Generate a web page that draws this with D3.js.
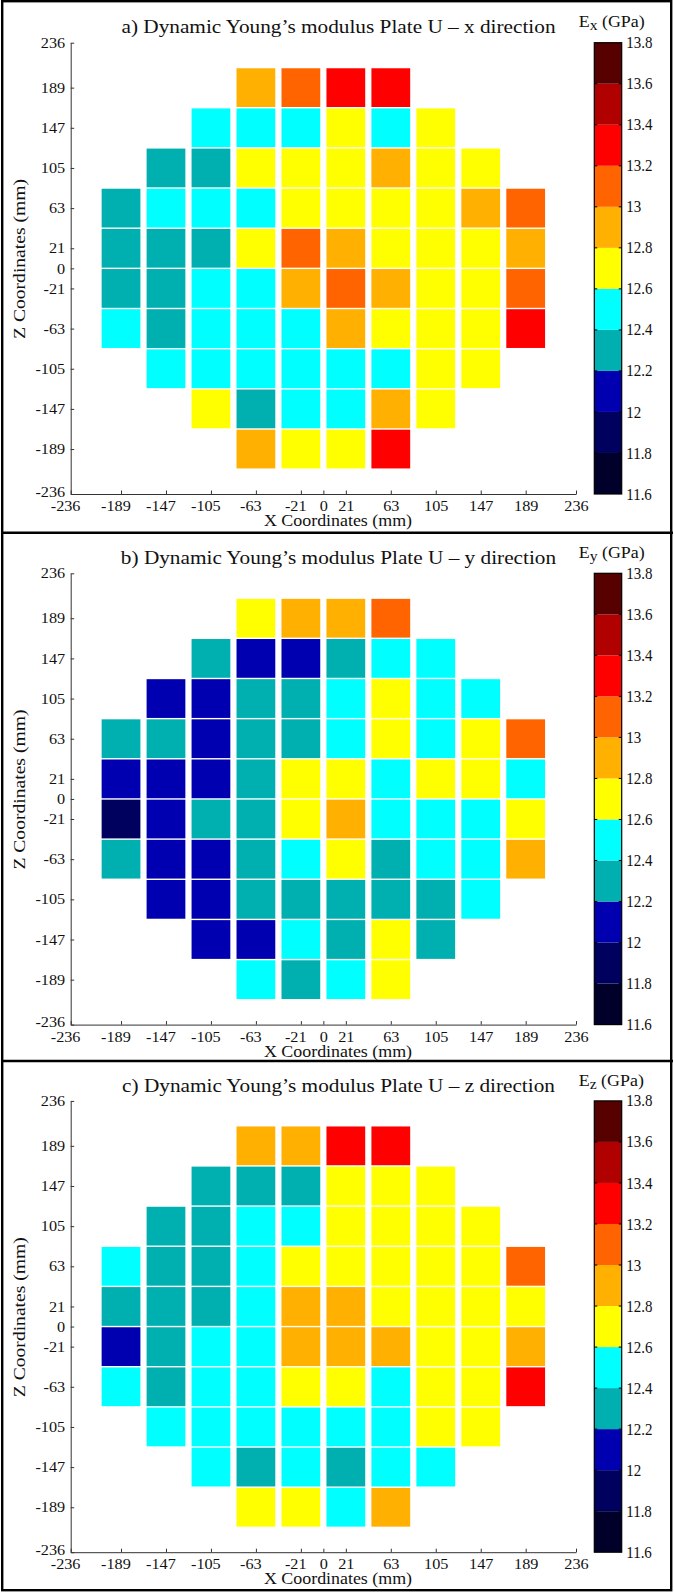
<!DOCTYPE html>
<html>
<head>
<meta charset="utf-8">
<script src="https://cdn.jsdelivr.net/npm/d3@7"></script>
<style>
  html, body { margin: 0; padding: 0; background: #fff; }
  svg { display: block; }
  text { font-family: "Liberation Serif", "Times New Roman", serif; fill: #111; }
</style>
</head>
<body>
<script>
// ---------- data ----------
const xCoords = [-189, -147, -105, -63, -21, 21, 63, 105, 147, 189];
const zCoords = [189, 147, 105, 63, 21, -21, -63, -105, -147, -189];
const axisTicks = [-236, -189, -147, -105, -63, -21, 0, 21, 63, 105, 147, 189, 236];
const colorTicks = [11.6, 11.8, 12.0, 12.2, 12.4, 12.6, 12.8, 13.0, 13.2, 13.4, 13.6, 13.8];
const binColors = ["#00002a", "#00005e", "#0000b0", "#00b0b0", "#00ffff", "#ffff00",
                   "#ffb000", "#ff6400", "#ff0000", "#b00000", "#560000"];
const panelTitles = [
  "a) Dynamic Young\u2019s modulus Plate U \u2013 x direction",
  "b) Dynamic Young\u2019s modulus Plate U \u2013 y direction",
  "c) Dynamic Young\u2019s modulus Plate U \u2013 z direction"
];
const cbarSubs = ["x", "y", "z"];

// rows follow zCoords (top to bottom), columns follow xCoords (left to right), GPa
const exValues = [
  [null, null, null, 12.9, 13.1, 13.3, 13.3, null, null, null],
  [null, null, 12.5, 12.5, 12.5, 12.7, 12.5, 12.7, null, null],
  [null, 12.3, 12.3, 12.7, 12.7, 12.7, 12.9, 12.7, 12.7, null],
  [12.3, 12.5, 12.5, 12.5, 12.7, 12.7, 12.7, 12.7, 12.9, 13.1],
  [12.3, 12.3, 12.3, 12.7, 13.1, 12.9, 12.7, 12.7, 12.7, 12.9],
  [12.3, 12.3, 12.5, 12.5, 12.9, 13.1, 12.9, 12.7, 12.7, 13.1],
  [12.5, 12.3, 12.5, 12.5, 12.5, 12.9, 12.7, 12.7, 12.7, 13.3],
  [null, 12.5, 12.5, 12.5, 12.5, 12.5, 12.5, 12.7, 12.7, null],
  [null, null, 12.7, 12.3, 12.5, 12.5, 12.9, 12.7, null, null],
  [null, null, null, 12.9, 12.7, 12.7, 13.3, null, null, null]
];
const eyValues = [
  [null, null, null, 12.7, 12.9, 12.9, 13.1, null, null, null],
  [null, null, 12.3, 12.1, 12.1, 12.3, 12.5, 12.5, null, null],
  [null, 12.1, 12.1, 12.3, 12.3, 12.5, 12.7, 12.5, 12.5, null],
  [12.3, 12.3, 12.1, 12.3, 12.3, 12.5, 12.7, 12.5, 12.7, 13.1],
  [12.1, 12.1, 12.1, 12.3, 12.7, 12.7, 12.5, 12.7, 12.7, 12.5],
  [11.9, 12.1, 12.3, 12.3, 12.7, 12.9, 12.5, 12.5, 12.5, 12.7],
  [12.3, 12.1, 12.1, 12.3, 12.5, 12.7, 12.3, 12.5, 12.5, 12.9],
  [null, 12.1, 12.1, 12.3, 12.3, 12.3, 12.3, 12.3, 12.5, null],
  [null, null, 12.1, 12.1, 12.5, 12.3, 12.7, 12.3, null, null],
  [null, null, null, 12.5, 12.3, 12.5, 12.7, null, null, null]
];
const ezValues = [
  [null, null, null, 12.9, 12.9, 13.3, 13.3, null, null, null],
  [null, null, 12.3, 12.3, 12.3, 12.7, 12.7, 12.7, null, null],
  [null, 12.3, 12.3, 12.5, 12.5, 12.7, 12.7, 12.7, 12.7, null],
  [12.5, 12.3, 12.3, 12.5, 12.7, 12.7, 12.7, 12.7, 12.7, 13.1],
  [12.3, 12.3, 12.3, 12.5, 12.9, 12.9, 12.7, 12.7, 12.7, 12.7],
  [12.1, 12.3, 12.5, 12.5, 12.9, 12.9, 12.9, 12.7, 12.7, 12.9],
  [12.5, 12.3, 12.5, 12.5, 12.7, 12.7, 12.5, 12.7, 12.7, 13.3],
  [null, 12.5, 12.5, 12.5, 12.5, 12.5, 12.5, 12.7, 12.7, null],
  [null, null, 12.5, 12.3, 12.5, 12.3, 12.5, 12.5, null, null],
  [null, null, null, 12.7, 12.7, 12.5, 12.9, null, null, null]
];
const panelValues = [exValues, eyValues, ezValues];

// ---------- layout ----------
const W = 674, H = 1592;
const panelOffsets = [0, 530.6, 1058.2];
const SX = 1.12; // horizontal stretch of the original picture

const svg = d3.select("body").append("svg").attr("width", W).attr("height", H);

const xs = d3.scaleLinear().domain([-236, 236]).range([70.7, 576]);
const ys = d3.scaleLinear().domain([236, -236]).range([42.7, 494]);
const cs = d3.scaleLinear().domain([11.6, 13.8]).range([494, 42.7]);
const color = d3.scaleThreshold().domain(colorTicks.slice(1, -1)).range(binColors);
const cbX0 = 594.3, cbX1 = 621.7;
const cellHalf = 21;

function stext(parent, x, y, str, size, anchor, sx, sy) {
  return parent.append("text")
    .attr("transform", `translate(${x},${y}) scale(${sx || 1},${sy || 1})`)
    .attr("text-anchor", anchor)
    .style("font-size", size + "px")
    .text(str);
}

panelValues.forEach((grid, p) => {
  const g = svg.append("g").attr("transform", `translate(0,${panelOffsets[p]})`);

  // cells
  const cells = [];
  grid.forEach((row, r) => row.forEach((v, c) => {
    if (v !== null) cells.push({x: xCoords[c], z: zCoords[r], v});
  }));
  g.selectAll("rect.cell").data(cells).enter().append("rect")
    .attr("class", "cell")
    .attr("x", d => xs(d.x - cellHalf) + 3.1)
    .attr("width", d => xs(d.x + cellHalf) - xs(d.x - cellHalf) - 6.2)
    .attr("y", d => ys(d.z + cellHalf) + 0.7)
    .attr("height", d => ys(d.z - cellHalf) - ys(d.z + cellHalf) - 1.4)
    .attr("fill", d => color(d.v));

  // axes
  const fmt = d => String(d);
  const xAxis = d3.axisBottom(xs).tickValues(axisTicks).tickFormat(fmt)
    .tickSizeInner(-3.5).tickSizeOuter(0).tickPadding(7);
  const yAxis = d3.axisLeft(ys).tickValues(axisTicks).tickFormat(fmt)
    .tickSizeInner(-3.5).tickSizeOuter(0).tickPadding(5);
  const gx = g.append("g").attr("transform", `translate(0,${ys(-236)})`).call(xAxis);
  const gy = g.append("g").attr("transform", `translate(${xs(-236)},0)`).call(yAxis);
  [gx, gy].forEach(a => {
    a.attr("font-family", null).attr("font-size", null);
    a.select(".domain").attr("stroke", "#333").attr("stroke-width", 1);
    a.selectAll(".tick line").attr("stroke", "#333");
    a.selectAll(".tick text").style("font-size", "14.5px").attr("fill", "#111");
  });
  gx.selectAll(".tick text")
    .attr("dx", d => d < 0 ? -5 : 0)
    .attr("transform", `scale(${SX},1)`);
  gy.selectAll(".tick text")
    .attr("y", d => d === -236 ? -2.5 : 0)
    .attr("transform", `scale(${SX},1)`);

  // title
  stext(g, 338.5, 33.3, panelTitles[p], 19, "middle", SX, 1);
  // x label
  stext(g, 338, 526, "X Coordinates (mm)", 16, "middle", SX, 1);
  // y label
  g.append("text")
    .attr("transform", `translate(24.5,259) rotate(-90) scale(1,${SX})`)
    .attr("text-anchor", "middle")
    .attr("textLength", 160)
    .attr("lengthAdjust", "spacingAndGlyphs")
    .style("font-size", "14px")
    .text("Z Coordinates (mm)");

  // colorbar
  const bins = d3.range(colorTicks.length - 1).map(i => ({lo: colorTicks[i], hi: colorTicks[i + 1]}));
  g.selectAll("rect.bin").data(bins).enter().append("rect")
    .attr("class", "bin")
    .attr("x", cbX0).attr("width", cbX1 - cbX0)
    .attr("y", d => cs(d.hi)).attr("height", d => cs(d.lo) - cs(d.hi))
    .attr("fill", d => color((d.lo + d.hi) / 2));
  g.append("rect").attr("x", cbX0).attr("width", cbX1 - cbX0)
    .attr("y", cs(13.8)).attr("height", cs(11.6) - cs(13.8))
    .attr("fill", "none").attr("stroke", "#000").attr("stroke-width", 1.2);
  const inner = colorTicks.slice(1, -1);
  g.selectAll("line.cbl").data(inner).enter().append("line")
    .attr("x1", cbX0).attr("x2", cbX0 + 3).attr("y1", d => cs(d)).attr("y2", d => cs(d))
    .attr("stroke", "#000");
  g.selectAll("line.cbr").data(inner).enter().append("line")
    .attr("x1", cbX1 - 3).attr("x2", cbX1).attr("y1", d => cs(d)).attr("y2", d => cs(d))
    .attr("stroke", "#000");
  g.selectAll("text.cbt").data(colorTicks).enter().append("text")
    .attr("class", "cbt")
    .attr("transform", d => `translate(${cbX1 + 4.5},${cs(d)}) scale(1,1.12)`)
    .attr("dy", "0.33em")
    .style("font-size", "15px")
    .text(d => String(+d.toFixed(1)));

  // colorbar title
  const ct = g.append("text")
    .attr("transform", `translate(578.7,27.3) scale(${SX},1)`)
    .style("font-size", "16px");
  ct.append("tspan").text("E");
  ct.append("tspan").attr("dy", 3).style("font-size", "14px").text(cbarSubs[p]);
  ct.append("tspan").attr("dy", -3).text(" (GPa)");
});

// frames
svg.append("rect").attr("x", 2.2).attr("y", 1.2).attr("width", 669).attr("height", 1589)
  .attr("fill", "none").attr("stroke", "#000").attr("stroke-width", 2.4);
[532.8, 1061].forEach(y => {
  svg.append("line").attr("x1", 1).attr("x2", 673).attr("y1", y).attr("y2", y)
    .attr("stroke", "#000").attr("stroke-width", 2.6);
});
</script>
</body>
</html>
